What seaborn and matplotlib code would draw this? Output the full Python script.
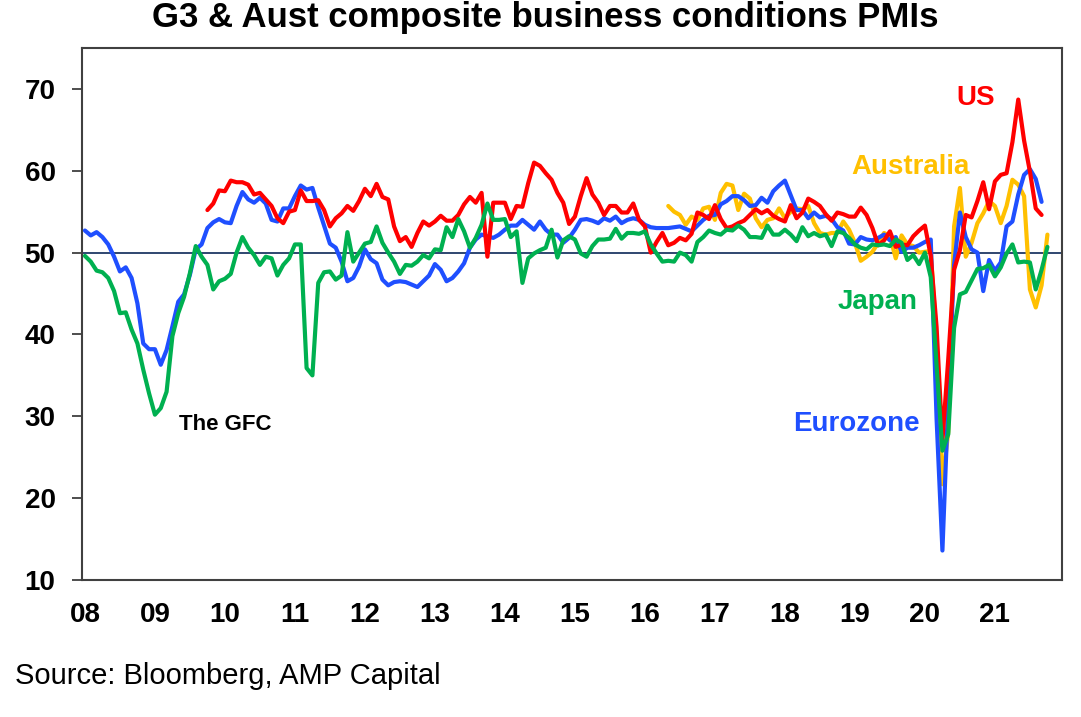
import numpy as np
import pandas as pd
import matplotlib
matplotlib.use("Agg")
import matplotlib.pyplot as plt
import seaborn as sns

# ---------------- data (monthly PMIs) ----------------
ez_start = "2008-01"
ez_values = [
    52.7, 52.1, 52.5, 51.9, 51.0, 49.5, 47.7, 48.2, 46.9, 43.8, 38.9, 38.2,
    38.2, 36.3, 38.1, 41.0, 44.0, 44.9, 47.3, 50.4, 51.0, 53.0, 53.7, 54.1,
    53.7, 53.6, 55.7, 57.4, 56.5, 56.1, 56.7, 56.0, 54.0, 53.8, 55.4, 55.4,
    56.9, 58.2, 57.7, 57.9, 55.5, 53.3, 51.1, 50.6, 48.9, 46.5, 46.9, 48.3,
    50.4, 49.2, 48.7, 46.7, 46.0, 46.4, 46.5, 46.4, 46.1, 45.8, 46.5, 47.2,
    48.6, 47.9, 46.5, 46.9, 47.7, 48.7, 50.6, 51.6, 52.2, 52.0, 51.8, 52.2,
    52.8, 53.3, 53.3, 54.0, 53.4, 52.8, 53.8, 52.8, 52.2, 52.2, 51.2, 51.8,
    52.8, 54.0, 54.1, 53.9, 53.6, 54.2, 53.9, 54.4, 53.6, 54.0, 54.2, 54.0,
    53.4, 53.1, 53.0, 53.0, 53.0, 53.1, 53.2, 52.9, 52.6, 53.3, 54.0, 54.5,
    54.6, 55.9, 56.3, 56.9, 56.9, 56.4, 55.7, 55.8, 56.7, 56.1, 57.5, 58.2,
    58.8, 57.0, 55.2, 55.2, 54.2, 54.9, 54.3, 54.5, 54.1, 53.1, 52.7, 51.1,
    51.0, 51.9, 51.6, 51.5, 51.8, 52.2, 51.5, 51.9, 50.1, 50.6, 50.6, 50.9,
    51.3, 51.6, 29.7, 13.6, 31.9, 48.5, 54.9, 51.9, 50.4, 50.0, 45.3, 49.1,
    47.8, 48.8, 53.2, 53.8, 57.1, 59.5, 60.2, 59.0, 56.2,
]

us_start = "2009-10"
us_values = [
    55.2, 56.0, 57.6,
    57.5, 58.8, 58.6, 58.6, 58.3, 57.1, 57.3, 56.5, 55.7, 54.2, 53.6, 55.0,
    55.2, 57.6, 56.3, 56.3, 56.4, 55.2, 53.2, 54.2, 54.8, 55.7, 55.1, 56.3,
    57.8, 56.9, 58.4, 56.8, 56.5, 53.2, 51.4, 51.9, 50.7, 52.4, 53.8, 53.3,
    53.8, 54.5, 53.9, 53.9, 54.6, 55.9, 56.8, 56.1, 57.3, 49.5, 56.1, 56.1,
    56.1, 54.1, 55.7, 55.6, 58.5, 61.0, 60.6, 59.7, 58.9, 57.3, 56.1, 53.5,
    54.4, 56.9, 59.1, 57.1, 56.1, 54.6, 55.7, 55.7, 54.9, 54.9, 56.0, 54.0,
    53.2, 50.0, 51.3, 52.4, 50.9, 51.2, 51.8, 51.5, 52.3, 54.9, 54.6, 54.1,
    55.8, 54.1, 53.0, 53.2, 53.6, 53.9, 54.6, 55.3, 54.8, 55.2, 54.5, 54.1,
    53.8, 55.8, 54.2, 54.9, 56.6, 56.2, 55.7, 54.7, 53.9, 54.9, 54.7, 54.4,
    54.4, 55.5, 54.6, 53.0, 50.9, 51.5, 52.6, 50.7, 51.0, 50.9, 52.0, 52.7,
    53.3, 49.6, 40.9, 27.0, 37.0, 47.9, 50.3, 54.6, 54.3, 56.3, 58.6, 55.3,
    58.7, 59.5, 59.7, 63.5, 68.7, 63.7, 59.9, 55.4, 54.6,
]

jp_start = "2008-01"
jp_values = [
    49.6, 48.9, 47.8, 47.6, 46.9, 45.3, 42.6, 42.7, 40.6, 38.9, 35.7, 32.8,
    30.2, 31.0, 33.0, 39.8, 42.6, 44.6, 47.5, 50.8, 49.5, 48.5, 45.5, 46.5,
    46.8, 47.4, 50.0, 51.9, 50.6, 49.7, 48.5, 49.5, 49.3, 47.2, 48.5, 49.3,
    51.0, 51.0, 35.9, 35.0, 46.3, 47.6, 47.7, 46.7, 47.2, 52.5, 48.9, 50.0,
    51.1, 51.3, 53.2, 51.2, 50.0, 48.9, 47.4, 48.5, 48.4, 48.9, 49.7, 49.3,
    50.4, 50.3, 53.1, 51.9, 54.1, 52.6, 50.6, 51.8, 53.4, 56.0, 54.0, 54.0,
    54.1, 51.9, 52.6, 46.3, 49.3, 49.9, 50.3, 50.6, 52.8, 49.4, 51.5, 52.0,
    51.6, 49.9, 49.5, 50.8, 51.6, 51.6, 51.7, 52.9, 51.7, 52.4, 52.4, 52.3,
    52.6, 51.0, 49.9, 48.9, 49.0, 48.9, 50.0, 49.7, 48.9, 51.3, 51.9, 52.7,
    52.4, 52.2, 52.8, 52.7, 53.3, 52.8, 51.9, 51.9, 51.8, 53.3, 52.2, 52.2,
    52.8, 52.2, 51.4, 53.1, 52.0, 52.4, 52.0, 52.2, 50.8, 52.6, 52.4, 51.8,
    51.0, 50.6, 50.4, 51.0, 50.9, 51.0, 50.8, 51.6, 51.2, 49.1, 49.7, 48.6,
    50.0, 47.0, 36.2, 25.8, 27.8, 40.8, 44.9, 45.2, 46.6, 48.0, 48.1, 48.5,
    47.1, 48.2, 49.9, 51.0, 48.8, 48.9, 48.8, 45.5, 47.9, 50.7,
]

au_start = "2016-05"
au_values = [
    55.7, 55.0, 54.6, 53.4, 54.4, 54.0, 55.4, 55.6,
    54.0, 57.3, 58.4, 58.2, 55.2, 57.2, 56.6, 54.2, 53.1, 54.0, 54.2, 55.4,
    54.2, 55.0, 55.4, 55.3, 55.7, 53.6, 52.4, 52.2, 52.4, 52.4, 53.8, 52.8,
    51.2, 49.0, 49.5, 50.1, 51.2, 52.4, 52.0, 49.3, 52.1, 51.0, 50.8, 50.0,
    50.1, 50.2, 39.4, 21.7, 28.1, 53.2, 57.9, 49.5, 51.2, 53.6, 54.8, 56.3,
    55.7, 53.6, 55.7, 58.9, 58.3, 56.9, 45.5, 43.3, 46.0, 52.2,
]

year_labels = ["08", "09", "10", "11", "12", "13", "14",
               "15", "16", "17", "18", "19", "20", "21"]
y_ticks = [10, 20, 30, 40, 50, 60, 70]

colors = {"Australia": "#FFC000", "Eurozone": "#1F4FFF",
          "US": "#FF0000", "Japan": "#00B050"}

# ---------------- build long table ----------------
def month_index(s):
    y, m = s.split("-")
    return (int(y) - 2008) * 12 + int(m) - 1

def frame(name, start, vals):
    m0 = month_index(start)
    return pd.DataFrame({"x": np.arange(m0, m0 + len(vals)) + 0.5,
                         "value": vals, "series": name})

df = pd.concat([frame("Australia", au_start, au_values),
                frame("Eurozone", ez_start, ez_values),
                frame("US", us_start, us_values),
                frame("Japan", jp_start, jp_values)], ignore_index=True)

# ---------------- plot ----------------
sns.set_style("white")
plt.rcParams["font.family"] = ["Liberation Sans", "DejaVu Sans"]
plt.rcParams["text.color"] = "black"
plt.rcParams["xtick.labelcolor"] = "black"
plt.rcParams["ytick.labelcolor"] = "black"

W, H = 1081, 717
fig = plt.figure(figsize=(W / 100, H / 100), dpi=100)
ax = fig.add_axes([82 / W, 1 - 580 / H, 980 / W, 532 / H])

ax.axhline(50, color="#1F3864", lw=1.3, zorder=1)
sns.lineplot(data=df, x="x", y="value", hue="series",
             hue_order=["Australia", "Eurozone", "US", "Japan"],
             palette=colors, linewidth=3.0, estimator=None,
             legend=False, ax=ax, zorder=3)

ax.set_xlim(0, 168)
ax.set_ylim(10, 75)
ax.set_xticks([12 * i + 0.5 for i in range(len(year_labels))])
ax.set_xticklabels(year_labels)
ax.set_yticks(y_ticks)
ax.set_xlabel("")
ax.set_ylabel("")

for s in ax.spines.values():
    s.set_color("#404040")
    s.set_linewidth(1.5)
ax.tick_params(axis="x", length=0, pad=16, labelsize=20, labelcolor="black")
ax.tick_params(axis="y", length=7, width=1.3, color="#404040",
               pad=12, labelsize=20, left=True, labelcolor="black")
for lab in ax.get_xticklabels() + ax.get_yticklabels():
    lab.set_fontweight("bold")

def ftext(x, y, s, **kw):
    fig.text(x / W, 1 - y / H, s, **kw)

ftext(545, 18, "G3 & Aust composite business conditions PMIs",
      ha="center", va="center", fontsize=25, fontweight="bold", color="black")
ftext(976, 98, "US", ha="center", va="center", fontsize=20,
      fontweight="bold", color=colors["US"])
ftext(911, 167, "Australia", ha="center", va="center", fontsize=20,
      fontweight="bold", color=colors["Australia"])
ftext(878, 302, "Japan", ha="center", va="center", fontsize=20,
      fontweight="bold", color=colors["Japan"])
ftext(856, 424, "Eurozone", ha="center", va="center", fontsize=20,
      fontweight="bold", color=colors["Eurozone"])
ftext(225, 424, "The GFC", ha="center", va="center", fontsize=16,
      fontweight="bold", color="black")
ftext(15, 676, "Source: Bloomberg, AMP Capital", ha="left", va="center",
      fontsize=21, color="black")

fig.savefig("out.png", dpi=100)
